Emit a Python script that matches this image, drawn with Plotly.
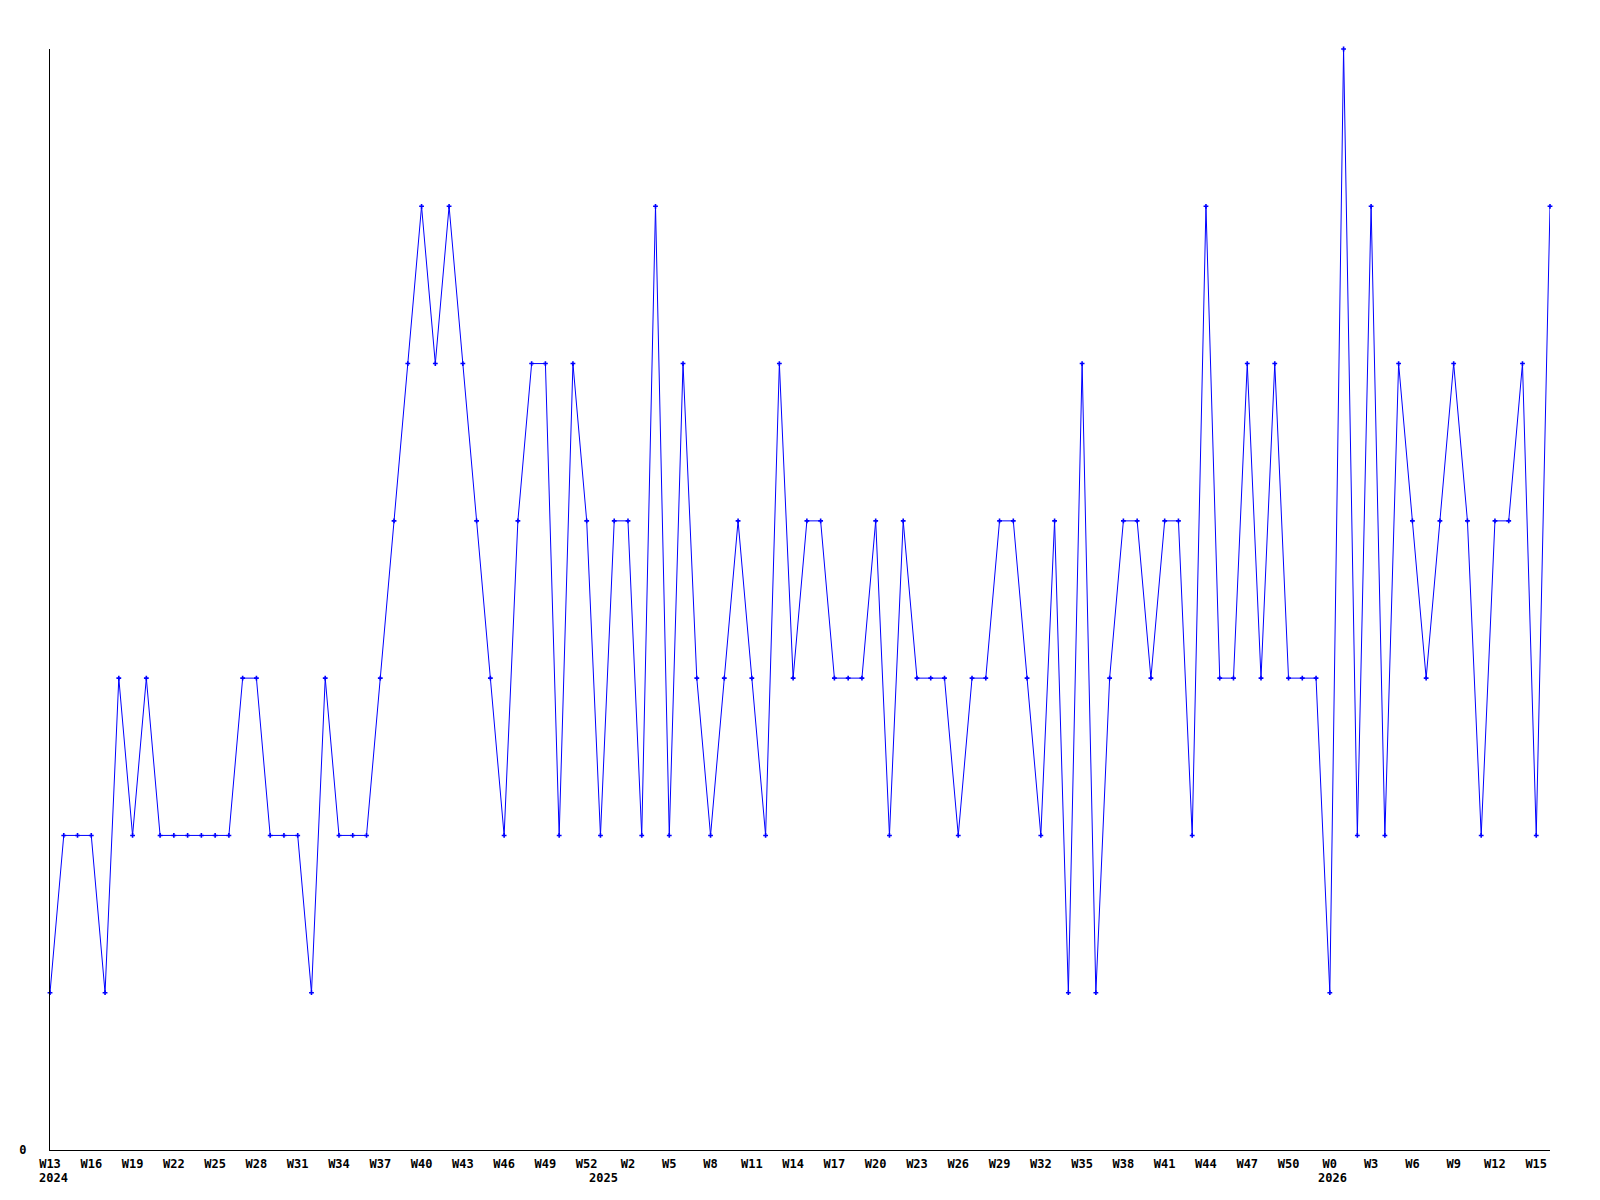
import plotly.graph_objects as go

years = ["2024"] * 40 + ["2025"] * 53 + ["2026"] * 17
weeks = list(range(13, 53)) + list(range(0, 53)) + list(range(0, 17))
values = [
    1, 2, 2, 2, 1, 3, 2, 3, 2, 2,
    2, 2, 2, 2, 3, 3, 2, 2, 2, 1,
    3, 2, 2, 2, 3, 4, 5, 6, 5, 6,
    5, 4, 3, 2, 4, 5, 5, 2, 5, 4,
    2, 4, 4, 2, 6, 2, 5, 3, 2, 3,
    4, 3, 2, 5, 3, 4, 4, 3, 3, 3,
    4, 2, 4, 3, 3, 3, 2, 3, 3, 4,
    4, 3, 2, 4, 1, 5, 1, 3, 4, 4,
    3, 4, 4, 2, 6, 3, 3, 5, 3, 5,
    3, 3, 3, 1, 7, 2, 6, 2, 5, 4,
    3, 4, 5, 4, 2, 4, 4, 5, 2, 6,
]

idx = list(range(len(values)))
tick_idx = idx[::3]
tick_text = ["W%d" % weeks[i] for i in tick_idx]

font = dict(family="DejaVu Sans Mono", size=12, color="black")

fig = go.Figure()
fig.add_trace(go.Scatter(
    x=idx, y=values, mode="lines+markers",
    line=dict(color="#0000ff", width=1),
    marker=dict(symbol="cross", size=4, color="#0000ff"),
    cliponaxis=False, hoverinfo="skip",
))

# year labels at first week of each year
seen = set()
for i, yr in enumerate(years):
    if yr not in seen:
        seen.add(yr)
        fig.add_annotation(x=i, y=0, xref="x", yref="paper", text="<b>%s</b>" % yr,
                           showarrow=False, yanchor="top", yshift=-19, xshift=3,
                           font=font)

fig.update_layout(
    width=1584, height=1184,
    margin=dict(l=42, r=42, t=41, b=42),
    paper_bgcolor="white", plot_bgcolor="white",
    showlegend=False,
    xaxis=dict(
        range=[0, len(values) - 1], tickvals=tick_idx,
        ticktext=["<b>%s</b>" % t for t in tick_text],
        showgrid=False, zeroline=False, showline=True,
        linecolor="black", linewidth=1, ticks="",
        tickfont=font, tickangle=0, ticklabelstandoff=3,
    ),
    yaxis=dict(
        range=[0, 7], tickvals=[0], ticktext=["<b>0</b>"],
        showgrid=False, zeroline=False, showline=True,
        linecolor="black", linewidth=1, ticks="",
        tickfont=font, ticklabelstandoff=20,
    ),
)

fig.write_html("out.html")
